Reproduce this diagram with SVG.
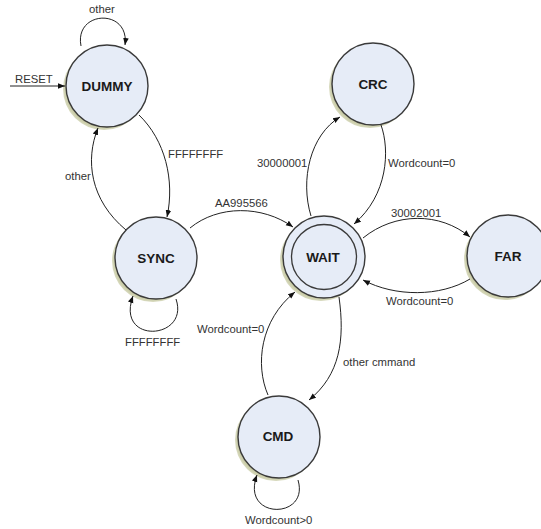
<svg xmlns="http://www.w3.org/2000/svg" width="541" height="529" viewBox="0 0 541 529">
<defs>
<marker id="arr" viewBox="0 0 10 10" refX="10" refY="5" markerWidth="7" markerHeight="7" markerUnits="userSpaceOnUse" orient="auto">
<path d="M0,1 L10,5 L0,9 Z" fill="#111"/>
</marker>
<radialGradient id="sh" cx="0.5" cy="0.5" r="0.5">
<stop offset="0.85" stop-color="#b7b98a"/>
<stop offset="1" stop-color="#d9dbc0"/>
</radialGradient>
</defs>
<style>
.shadow{fill:url(#sh)}
.node{fill:#e6ecf7;stroke:#3a3a3a;stroke-width:1.4}
.inner{fill:none;stroke:#3a3a3a;stroke-width:1.3}
.nl{font-family:"Liberation Sans",Arial,sans-serif;font-weight:bold;font-size:13.5px;fill:#1a1a1a;text-anchor:middle}
.el{font-family:"Liberation Sans",Arial,sans-serif;font-size:11.3px;fill:#333}
.edge{fill:none;stroke:#222;stroke-width:1}
</style>
<rect width="541" height="529" fill="#fff"/>
<g id="DUMMY">
<circle class="shadow" cx="104" cy="89" r="41"/>
<circle class="node" cx="107" cy="86" r="41"/>
<text class="nl" x="107" y="91">DUMMY</text>
</g>
<g id="SYNC">
<circle class="shadow" cx="153" cy="261" r="41"/>
<circle class="node" cx="156" cy="258" r="41"/>
<text class="nl" x="156" y="263">SYNC</text>
</g>
<g id="CRC">
<circle class="shadow" cx="370" cy="87" r="41"/>
<circle class="node" cx="373" cy="84" r="41"/>
<text class="nl" x="373" y="89">CRC</text>
</g>
<g id="WAIT">
<circle class="shadow" cx="321" cy="260" r="41"/>
<circle class="node" cx="324" cy="257" r="41"/>
<circle class="inner" cx="324" cy="257" r="32.5"/>
<text class="nl" x="323" y="262">WAIT</text>
</g>
<g id="FAR">
<circle class="shadow" cx="505" cy="259" r="41"/>
<circle class="node" cx="508" cy="256" r="41"/>
<text class="nl" x="508" y="261">FAR</text>
</g>
<g id="CMD">
<circle class="shadow" cx="276" cy="440" r="41"/>
<circle class="node" cx="279" cy="437" r="41"/>
<text class="nl" x="278" y="441">CMD</text>
</g>
<g id="connectors">
<path class="edge" d="M81,46 C74,10 130,8 125,45" marker-end="url(#arr)"/>
<path class="edge" d="M10,86 L65,86" marker-end="url(#arr)"/>
<path class="edge" d="M139,115 C165,140 175,180 167,217" marker-end="url(#arr)"/>
<path class="edge" d="M126,230 C90,200 85,160 98,128" marker-end="url(#arr)"/>
<path class="edge" d="M176,299 C190,340 115,345 133,296" marker-end="url(#arr)"/>
<path class="edge" d="M190,228 C218,205 262,205 293,227" marker-end="url(#arr)"/>
<path class="edge" d="M311,216 C300,180 310,135 340,117" marker-end="url(#arr)"/>
<path class="edge" d="M381,125 C390,150 388,195 354,224" marker-end="url(#arr)"/>
<path class="edge" d="M363,238 C395,212 440,212 470,237" marker-end="url(#arr)"/>
<path class="edge" d="M470,279 C440,297 395,297 363,280" marker-end="url(#arr)"/>
<path class="edge" d="M339,297 C345,340 340,375 309,400" marker-end="url(#arr)"/>
<path class="edge" d="M268,395 C255,365 260,320 295,292" marker-end="url(#arr)"/>
<path class="edge" d="M298,480 C310,520 240,520 257,475" marker-end="url(#arr)"/>
</g>
<g id="labels">
<text class="el" x="89" y="13">other</text>
<text class="el" x="15" y="83">RESET</text>
<text class="el" x="168" y="158">FFFFFFFF</text>
<text class="el" x="65" y="180">other</text>
<text class="el" x="125" y="346">FFFFFFFF</text>
<text class="el" x="215" y="207">AA995566</text>
<text class="el" x="257" y="167">30000001</text>
<text class="el" x="388" y="167">Wordcount=0</text>
<text class="el" x="391" y="217">30002001</text>
<text class="el" x="386" y="305">Wordcount=0</text>
<text class="el" x="343" y="366">other cmmand</text>
<text class="el" x="197" y="333">Wordcount=0</text>
<text class="el" x="245" y="524">Wordcount&gt;0</text>
</g>
</svg>
